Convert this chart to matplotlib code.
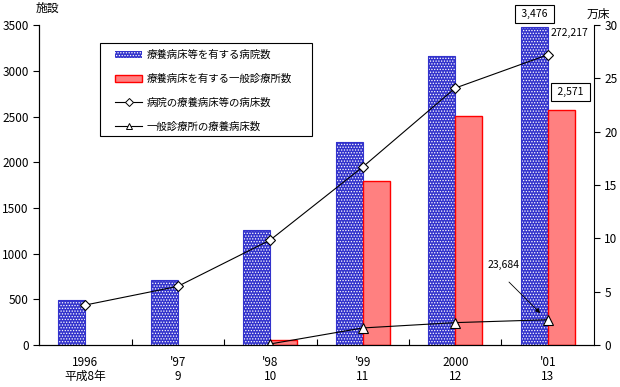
import matplotlib
matplotlib.use("Agg")
import matplotlib.pyplot as plt
from matplotlib.patches import Rectangle
from matplotlib.lines import Line2D
import numpy as np

plt.rcParams['font.family'] = ['Noto Sans CJK JP', 'DejaVu Sans']
plt.rcParams['font.size'] = 7.5
plt.rcParams['hatch.linewidth'] = 0.6

years = ["1996\n平成8年", "'97\n9", "'98\n10", "'99\n11", "2000\n12", "'01\n13"]
hospitals = [490, 715, 1260, 2220, 3160, 3476]          # 療養病床等を有する病院数
clinics = [np.nan, np.nan, 50, 1800, 2510, 2571]       # 療養病床を有する一般診療所数
hosp_beds = [3.75, 5.5, 9.85, 16.7, 24.1, 27.2217]      # 万床
clinic_beds = [np.nan, np.nan, 0.1, 1.6, 2.1, 2.3684]   # 万床

x = np.arange(len(years))
w = 0.29

fig = plt.figure(figsize=(6.2, 3.87), dpi=100)
ax1 = fig.add_axes([0.063, 0.1085, 0.895, 0.8265])
ax2 = ax1.twinx()

blue = '#3333cc'
b1 = ax1.bar(x - w / 2, hospitals, w, color=blue, edgecolor='white', hatch='......', linewidth=0)
ax1.bar(x - w / 2, hospitals, w, fill=False, edgecolor=blue, linewidth=0.8)
b2 = ax1.bar(x + w / 2, clinics, w, color='#ff8080', edgecolor='red', linewidth=1)

l1, = ax2.plot(x, hosp_beds, color='black', lw=0.8, marker='D', ms=5,
               mfc='white', mec='black', mew=0.8)
l2, = ax2.plot(x, clinic_beds, color='black', lw=0.8, marker='^', ms=7,
               mfc='white', mec='black', mew=0.8)

ax1.set_xlim(-0.5, 5.5)
ax1.set_ylim(0, 3500)
ax1.set_yticks(range(0, 3501, 500))
ax2.set_ylim(0, 30)
ax2.set_yticks(range(0, 31, 5))

for a in (ax1, ax2):
    a.spines['top'].set_visible(False)
ax1.spines['right'].set_visible(False)

ax1.set_xticks(np.arange(0.5, 5, 1))
ax1.set_xticklabels([])
ax1.tick_params(axis='x', which='major', direction='in', length=4)
ax1.set_xticks(x, minor=True)
ax1.set_xticklabels(years, minor=True, linespacing=1.05, fontsize=8.5)
ax1.tick_params(axis='x', which='minor', length=0, pad=8)
ax1.tick_params(axis='y', direction='out', length=4, labelsize=8.5)
ax2.tick_params(axis='y', direction='out', length=4, labelsize=8.5)

fig.text(0.076, 0.979, '施設', ha='center', va='center', fontsize=8.5)
fig.text(0.965, 0.962, '万床', ha='center', va='center', fontsize=8.5)

box = dict(boxstyle='square,pad=0.4', fc='white', ec='black', lw=0.8)
ax1.text(4.86, 3621, ' 3,476 ', ha='center', va='center', clip_on=False, bbox=box)
ax1.text(5.25, 2768, ' 2,571 ', ha='center', va='center', clip_on=False, bbox=box)
ax2.text(5.24, 29.3, '272,217', ha='center', va='center', clip_on=False)
ax2.text(4.52, 7.5, '23,684', ha='center', va='center')
ax2.annotate('', xy=(4.94, 2.81), xytext=(4.56, 6.09),
             arrowprops=dict(arrowstyle='-|>', color='black', lw=0.6, mutation_scale=7))

# legend frame drawn separately (different horizontal / vertical padding)
fig.patches.append(Rectangle((100 / 620, 1 - 136 / 387), 212 / 620, 93 / 387,
                             transform=fig.transFigure, fill=False,
                             ec='black', lw=0.8, zorder=5))
h1 = Line2D([], [], color='black', lw=0.8, marker='D', ms=4, mfc='white', mec='black', mew=0.7)
h2 = Line2D([], [], color='black', lw=0.8, marker='^', ms=5, mfc='white', mec='black', mew=0.7)
leg = ax2.legend([b1, b2, h1, h2],
                 ['療養病床等を有する病院数', '療養病床を有する一般診療所数',
                  '病院の療養病床等の病床数', '一般診療所の療養病床数'],
                 loc='upper left', bbox_to_anchor=(115 / 620, 1 - 50 / 387),
                 bbox_transform=fig.transFigure, frameon=False,
                 borderpad=0, labelspacing=1.3, handlelength=2.6,
                 handletextpad=0.4, handleheight=0.7, borderaxespad=0,
                 numpoints=1)

fig.savefig('out.png', dpi=100)
